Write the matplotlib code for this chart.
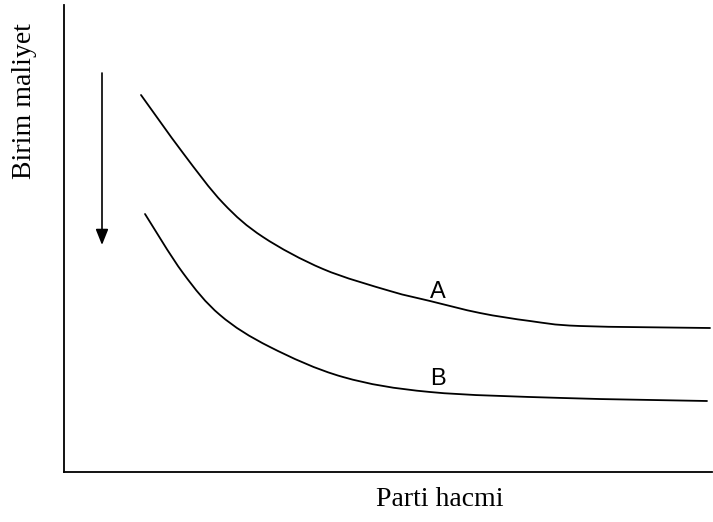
import matplotlib
matplotlib.use("Agg")
import matplotlib.pyplot as plt
from matplotlib.path import Path
from matplotlib.patches import PathPatch

# Curve data (arbitrary units: batch size vs unit cost)
a_x = [77, 119, 159, 199, 259, 326, 366, 416, 466, 516, 646]
a_y = [377, 319, 269, 235, 203, 181, 171, 159, 151, 146, 144]
b_x = [81, 119, 156, 206, 279, 366, 499, 643]
b_y = [258, 199, 157, 125, 95, 80, 74, 71]
label_a = "A"
label_b = "B"
xlabel = "Parti hacmi"
ylabel = "Birim maliyet"


def smooth_path(xs, ys):
    """Catmull-Rom curve through the given points, as cubic Bezier segments."""
    pts = list(zip(xs, ys))
    verts = [pts[0]]
    codes = [Path.MOVETO]
    n = len(pts)
    for i in range(n - 1):
        p0 = pts[i - 1] if i > 0 else pts[i]
        p1 = pts[i]
        p2 = pts[i + 1]
        p3 = pts[i + 2] if i + 2 < n else pts[i + 1]
        c1 = (p1[0] + (p2[0] - p0[0]) / 6, p1[1] + (p2[1] - p0[1]) / 6)
        c2 = (p2[0] - (p3[0] - p1[0]) / 6, p2[1] - (p3[1] - p1[1]) / 6)
        verts += [c1, c2, p2]
        codes += [Path.CURVE4] * 3
    return Path(verts, codes)


W, H = 713, 522
fig = plt.figure(figsize=(W / 100, H / 100), dpi=100)
left, right, top, bottom = 64, 712, 5, 472
ax = fig.add_axes([left / W, (H - bottom) / H, (right - left) / W, (bottom - top) / H])
ax.set_xlim(0, right - left)
ax.set_ylim(0, bottom - top)

for xs, ys in [(a_x, a_y), (b_x, b_y)]:
    ax.add_patch(PathPatch(smooth_path(xs, ys), facecolor="none", edgecolor="black",
                           lw=1.3, capstyle="round", joinstyle="round"))

ax.text(374, 180, label_a, fontsize=17, family="Liberation Sans", ha="center", va="center")
ax.text(374, 93, label_b, fontsize=17, family="Liberation Sans", ha="center", va="center")

# downward arrow
ax.annotate("", xy=(38, 227), xytext=(38, 399),
            arrowprops=dict(arrowstyle="-|>,head_length=0.95,head_width=0.38", color="black", lw=1.2,
                            shrinkA=0, shrinkB=0))

for s in ["top", "right"]:
    ax.spines[s].set_visible(False)
for s in ["left", "bottom"]:
    ax.spines[s].set_linewidth(1.3)
ax.set_xticks([])
ax.set_yticks([])

fig.text(440 / W, 1 - 500 / H, xlabel, fontsize=20, family="Liberation Serif", ha="center", va="center")
fig.text(25 / W, 1 - 101 / H, ylabel, fontsize=20, family="Liberation Serif", ha="center", va="center", rotation=90)

fig.savefig("out.png", dpi=100)
